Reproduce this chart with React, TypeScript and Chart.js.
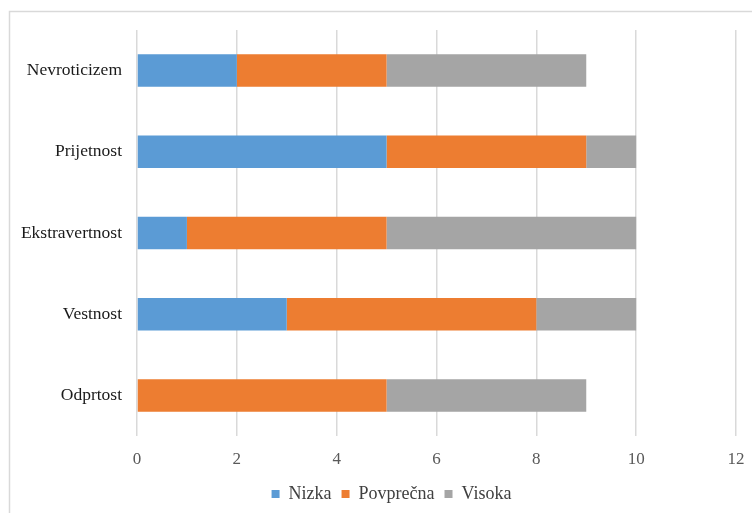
import React, { useEffect, useRef } from "react";
import { Chart, registerables } from "chart.js";

Chart.register(...registerables);

const categories = ["Nevroticizem", "Prijetnost", "Ekstravertnost", "Vestnost", "Odprtost"];
const nizka = [2, 5, 1, 3, 0];
const povprecna = [3, 4, 4, 5, 5];
const visoka = [4, 1, 5, 2, 4];
const xTicks = [0, 2, 4, 6, 8, 10, 12];

const SERIF = "'Liberation Serif', 'Times New Roman', serif";

// Thin frame around the chart area of the page
const framePlugin = {
  id: "frame",
  beforeDraw(chart: any) {
    const ctx = chart.ctx;
    ctx.save();
    ctx.strokeStyle = "#d9d9d9";
    ctx.lineWidth = 1.5;
    ctx.strokeRect(9.5, 11.5, 1000, 1000);
    ctx.restore();
  },
};

// Centre the legend under the plot area rather than the whole canvas
const legendShift = {
  id: "legendShift",
  afterLayout(chart: any) {
    const lg = chart.legend;
    if (!lg) return;
    const ca = chart.chartArea;
    const shift = (ca.left + ca.right) / 2 - (lg.left + lg.right) / 2 - 45;
    lg.left += shift;
    lg.right += shift;
  },
};

export default function App() {
  const ref = useRef<HTMLCanvasElement | null>(null);

  useEffect(() => {
    if (!ref.current) return;
    const chart = new Chart(ref.current, {
      type: "bar",
      data: {
        labels: categories,
        datasets: [
          { label: "Nizka", data: nizka, backgroundColor: "#5B9BD5" },
          { label: "Povprečna", data: povprecna, backgroundColor: "#ED7D31" },
          { label: "Visoka", data: visoka, backgroundColor: "#A5A5A5" },
        ],
      },
      options: {
        indexAxis: "y",
        responsive: true,
        maintainAspectRatio: false,
        animation: false,
        datasets: { bar: { categoryPercentage: 1, barPercentage: 0.4 } },
        layout: { padding: { top: 30, right: 16, left: 0, bottom: 0 } },
        scales: {
          x: {
            stacked: true,
            min: 0,
            max: 12,
            afterBuildTicks(scale: any) {
              scale.ticks = xTicks.map((v) => ({ value: v }));
            },
            afterFit(scale: any) {
              scale.height = 39;
              scale.paddingLeft = 0;
              scale.paddingRight = 0;
            },
            border: { display: false },
            grid: { color: "#d9d9d9", lineWidth: 1.5, drawTicks: false },
            ticks: {
              padding: 13,
              color: "#595959",
              font: { family: SERIF, size: 17 },
            },
          },
          y: {
            stacked: true,
            afterFit(scale: any) {
              scale.width = 137;
            },
            border: { display: false },
            grid: { display: false, drawTicks: false },
            ticks: {
              padding: 15,
              color: "#1a1a1a",
              font: { family: SERIF, size: 17.5 },
            },
          },
        },
        plugins: {
          legend: {
            position: "bottom",
            labels: {
              boxWidth: 8,
              boxHeight: 8,
              padding: 10,
              color: "#404040",
              font: { family: SERIF, size: 18 },
            },
          },
          tooltip: { enabled: false },
        },
      },
      plugins: [framePlugin, legendShift],
    } as any);
    return () => chart.destroy();
  }, []);

  return (
    <div style={{ position: "absolute", left: 0, top: 0, width: 752, height: 513, background: "#fff" }}>
      <canvas ref={ref} />
    </div>
  );
}
